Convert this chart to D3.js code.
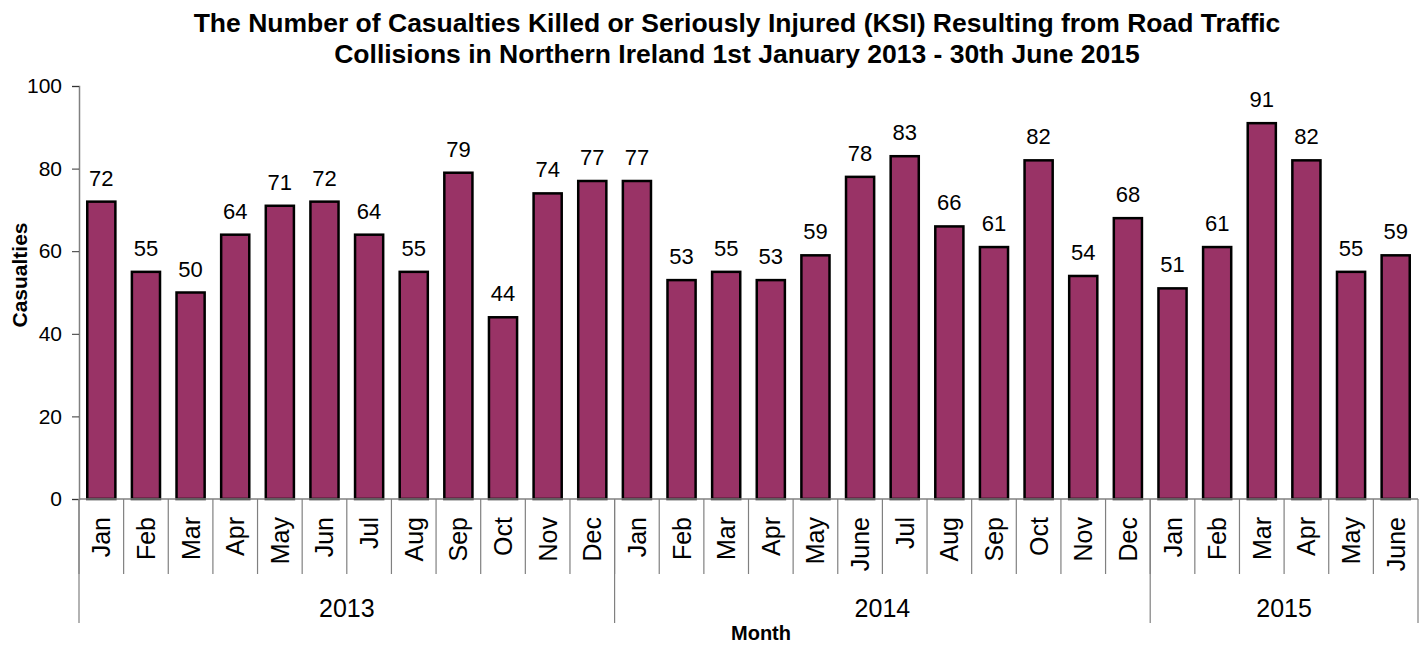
<!DOCTYPE html>
<html>
<head>
<meta charset="utf-8">
<script src="https://cdn.jsdelivr.net/npm/d3@7"></script>
<style>
  body { margin: 0; background: #fff; }
  text { font-family: Arial, 'Liberation Sans', sans-serif; }
</style>
</head>
<body>
<svg width="1424" height="646"></svg>
<script>
var months2013 = ['Jan', 'Feb', 'Mar', 'Apr', 'May', 'Jun', 'Jul', 'Aug', 'Sep', 'Oct', 'Nov', 'Dec']
var months2014 = ['Jan', 'Feb', 'Mar', 'Apr', 'May', 'June', 'Jul', 'Aug', 'Sep', 'Oct', 'Nov', 'Dec']
var months2015 = ['Jan', 'Feb', 'Mar', 'Apr', 'May', 'June']
var ksi2013 = [72, 55, 50, 64, 71, 72, 64, 55, 79, 44, 74, 77]
var ksi2014 = [77, 53, 55, 53, 59, 78, 83, 66, 61, 82, 54, 68]
var ksi2015 = [51, 61, 91, 82, 55, 59]
var years = ['2013', '2014', '2015']
var yTicks = [0, 20, 40, 60, 80, 100]

var titleLines = [
  'The Number of Casualties Killed or Seriously Injured (KSI) Resulting from Road Traffic',
  'Collisions in Northern Ireland 1st January 2013 - 30th June 2015'
]

// flatten into one row per month
var data = []
var groups = [[months2013, ksi2013], [months2014, ksi2014], [months2015, ksi2015]]
groups.forEach(function (grp, gi) {
  grp[0].forEach(function (m, i) {
    data.push({ key: years[gi] + '-' + i, month: m, year: years[gi], value: grp[1][i] })
  })
})

var svg = d3.select('svg')
var plotLeft = 79
var plotRight = 1418
var plotTop = 86
var plotBottom = 499

var x = d3.scaleBand()
  .domain(data.map(function (d) { return d.key }))
  .range([plotLeft, plotRight])
  .paddingInner(0.37)
  .paddingOuter(0.185)

var y = d3.scaleLinear().domain([0, 100]).range([plotBottom, plotTop])

var step = x.step()
var barColor = '#993366'

// title
svg.append('text')
  .attr('text-anchor', 'middle')
  .style('font-size', '26.5px')
  .style('font-weight', 'bold')
  .selectAll('tspan')
  .data(titleLines)
  .enter().append('tspan')
    .attr('x', 737)
    .attr('y', function (d, i) { return 32 + i * 31 })
    .text(function (d) { return d })

// y axis
var yAxis = svg.append('g')
  .attr('transform', 'translate(' + plotLeft + ',0)')
  .call(d3.axisLeft(y).tickValues(yTicks).tickSize(7).tickPadding(10))
yAxis.select('.domain').attr('stroke', '#808080').attr('stroke-width', 1.5)
yAxis.selectAll('.tick line').attr('stroke', '#333')
yAxis.selectAll('.tick text').style('font-size', '21px').attr('fill', '#000')

// bars
svg.selectAll('.bar')
  .data(data)
  .enter().append('rect')
    .attr('class', 'bar')
    .attr('x', function (d) { return x(d.key) })
    .attr('y', function (d) { return y(d.value) })
    .attr('width', x.bandwidth())
    .attr('height', function (d) { return plotBottom - y(d.value) })
    .attr('fill', barColor)
    .attr('stroke', '#000')
    .attr('stroke-width', 2.5)

// value labels
svg.selectAll('.val')
  .data(data)
  .enter().append('text')
    .attr('class', 'val')
    .attr('x', function (d) { return x(d.key) + x.bandwidth() / 2 })
    .attr('y', function (d) { return y(d.value) - 16 })
    .attr('text-anchor', 'middle')
    .style('font-size', '22px')
    .text(function (d) { return d.value })

// x axis line
svg.append('line')
  .attr('x1', plotLeft).attr('x2', plotRight)
  .attr('y1', plotBottom).attr('y2', plotBottom)
  .attr('stroke', '#808080').attr('stroke-width', 1.5)

// month separators
svg.selectAll('.msep')
  .data(data)
  .enter().append('line')
    .attr('class', 'msep')
    .attr('x1', function (d) { return x(d.key) - step * 0.185 })
    .attr('x2', function (d) { return x(d.key) - step * 0.185 })
    .attr('y1', plotBottom).attr('y2', 574)
    .attr('stroke', '#808080').attr('stroke-width', 1.2)

// month labels
svg.selectAll('.mlab')
  .data(data)
  .enter().append('text')
    .attr('class', 'mlab')
    .attr('transform', function (d) {
      return 'translate(' + (x(d.key) + x.bandwidth() / 2) + ',517) rotate(-90)'
    })
    .attr('dy', '0.36em')
    .attr('text-anchor', 'end')
    .style('font-size', '25px')
    .text(function (d) { return d.month })

// year groups
var yearInfo = years.map(function (yr) {
  var rows = data.filter(function (d) { return d.year === yr })
  var x0 = x(rows[0].key) - step * 0.185
  var x1 = x(rows[rows.length - 1].key) + x.bandwidth() + step * 0.185
  return { year: yr, x0: x0, x1: x1 }
})

svg.selectAll('.ysep')
  .data(yearInfo.map(function (d) { return d.x0 }).concat([plotRight]))
  .enter().append('line')
    .attr('class', 'ysep')
    .attr('x1', function (d) { return d })
    .attr('x2', function (d) { return d })
    .attr('y1', plotBottom).attr('y2', 623)
    .attr('stroke', '#808080').attr('stroke-width', 1.2)

svg.selectAll('.ylab')
  .data(yearInfo)
  .enter().append('text')
    .attr('class', 'ylab')
    .attr('x', function (d) { return (d.x0 + d.x1) / 2 })
    .attr('y', 617)
    .attr('text-anchor', 'middle')
    .style('font-size', '25px')
    .text(function (d) { return d.year })

// axis titles
svg.append('text')
  .attr('transform', 'translate(27,275) rotate(-90)')
  .attr('text-anchor', 'middle')
  .style('font-size', '21px')
  .style('font-weight', 'bold')
  .text('Casualties')

svg.append('text')
  .attr('x', 761)
  .attr('y', 640)
  .attr('text-anchor', 'middle')
  .style('font-size', '20px')
  .style('font-weight', 'bold')
  .text('Month')
</script>
</body>
</html>
